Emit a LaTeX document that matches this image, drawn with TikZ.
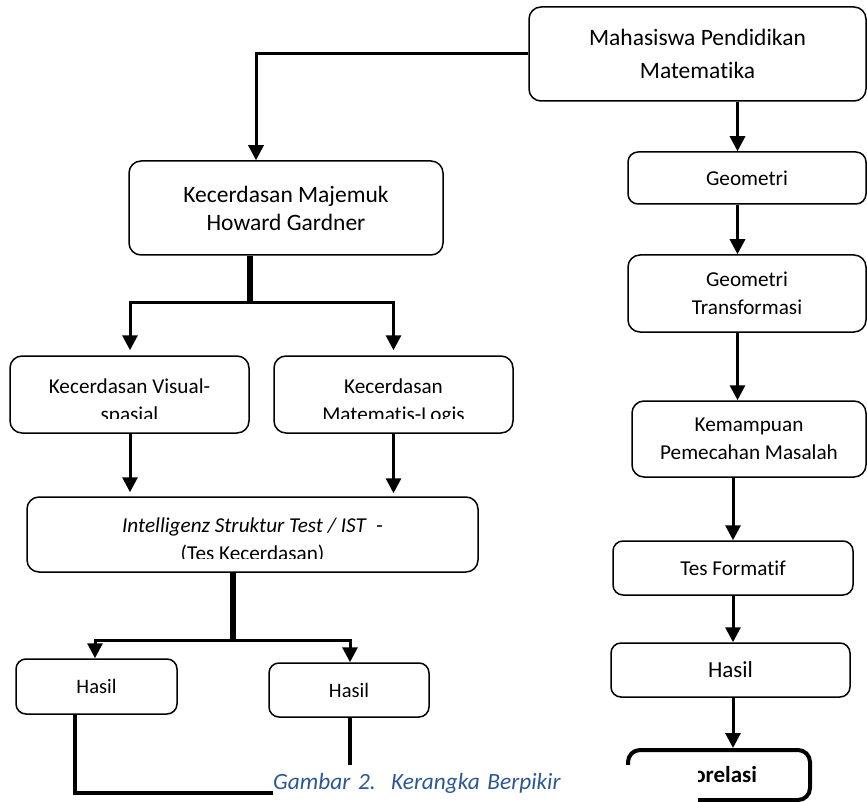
\documentclass[tikz,border=0pt]{standalone}
\usepackage{fontspec}
\setmainfont{Carlito}[Ligatures=NoCommon]
\usetikzlibrary{arrows.meta}
\definecolor{captionblue}{RGB}{43,87,151}
\tikzstyle{box} = [draw, line width=1.5pt, rounded corners=12pt, inner sep=0pt, align=center]
\tikzstyle{arrow} = [line width=3pt, -{Triangle[length=15pt,width=15pt]}]
\tikzstyle{stem} = [line width=5.5pt]
\tikzstyle{link} = [line width=3.2pt]
\tikzstyle{big} = [font={\fontsize{23.5}{31}\selectfont}]
\tikzstyle{mid} = [font={\fontsize{21.2}{28.5}\selectfont}]

\begin{document}
\begin{tikzpicture}[x=1pt, y=-1pt]
    \useasboundingbox (0,0) rectangle (867,802);

    % Points
    \coordinate (ColMaj) at (256,0);
    \coordinate (ColTop) at (737.5,0);
    \coordinate (ColBot) at (733,0);
    \coordinate (SplitTop) at (250,302);
    \coordinate (SplitBot) at (233,640);
    \coordinate (ColVis) at (130,0);
    \coordinate (ColLog) at (393.5,0);
    \coordinate (ColHasA) at (95,0);
    \coordinate (ColHasB) at (350,0);
    \coordinate (LinkA) at (75,0);
    \coordinate (Join) at (628,793);

    % Right column
    \node[box, big, minimum width=337pt, minimum height=94pt] (Mahasiswa) at (697.5,54) {Mahasiswa Pendidikan\\[2pt]Matematika};
    \node[box, mid, minimum width=238pt, minimum height=52pt, rounded corners=10pt] (Geometri) at (747,178) {Geometri};
    \node[box, mid, minimum width=238pt, minimum height=77pt] (GeoTrans) at (747,293.5) {Geometri\\Transformasi};
    \node[box, mid, minimum width=234pt, minimum height=76pt] (Kemampuan) at (749,439) {Kemampuan\\Pemecahan Masalah};
    \node[box, mid, minimum width=240pt, minimum height=54pt, rounded corners=10pt] (TesFormatif) at (733,568) {Tes Formatif};
    \node[box, font={\fontsize{23}{28}\selectfont}, minimum width=239pt, minimum height=54pt, rounded corners=10pt] (HasilTes) at (730.5,670) {Hasil};
    \node[box, line width=4pt, font={\fontsize{23}{28}\selectfont\bfseries}, minimum width=182pt, minimum height=50pt] (Korelasi) at (719,775) {Korelasi};

    % Left column
    \node[box, big, minimum width=314pt, minimum height=94pt] (Majemuk) at (286,208) {Kecerdasan Majemuk\\[-3pt]Howard Gardner};
    \node[box, minimum width=239pt, minimum height=77pt] (Visual) at (129.5,394.5) {};
    \node[box, minimum width=239pt, minimum height=77pt] (Logis) at (393.5,394.5) {};
    \node[box, minimum width=451pt, minimum height=75pt] (IST) at (252.5,534.5) {};
    \begin{scope}
        \clip (10,356) rectangle (513,418);
        \node[mid, align=center] (VisualText) at (129.5,402) {Kecerdasan Visual-\\spasial};
        \node[mid, align=center] (LogisText) at (393.5,402) {Kecerdasan\\Matematis-Logis};
    \end{scope}
    \begin{scope}
        \clip (27,497) rectangle (478,558);
        \node[mid, align=center] (ISTText) at (252.5,540.5) {\textit{Intelligenz Struktur Test / IST}\ \ -\\(Tes Kecerdasan)};
    \end{scope}
    \node[box, font={\fontsize{20.5}{26}\selectfont}, minimum width=161pt, minimum height=55pt, rounded corners=10pt] (HasilVisual) at (96.5,686.5) {Hasil};
    \node[box, font={\fontsize{20.5}{26}\selectfont}, minimum width=160pt, minimum height=54pt, rounded corners=10pt] (HasilLogis) at (349,690) {Hasil};

    % Arrows
    \draw[arrow] (Mahasiswa.west) -| (Majemuk.north -| ColMaj);
    \draw[arrow] (Mahasiswa.south -| ColTop) -- (Geometri.north -| ColTop);
    \draw[arrow] (Geometri.south -| ColTop) -- (GeoTrans.north -| ColTop);
    \draw[arrow] (GeoTrans.south -| ColTop) -- (Kemampuan.north -| ColTop);
    \draw[arrow] (Kemampuan.south -| ColBot) -- (TesFormatif.north -| ColBot);
    \draw[arrow] (TesFormatif.south -| ColBot) -- (HasilTes.north -| ColBot);
    \draw[arrow] (HasilTes.south -| ColBot) -- (Korelasi.north -| ColBot);

    \draw[stem] (Majemuk.south -| SplitTop) -- (SplitTop);
    \draw[arrow, shorten >=5pt] (SplitTop) -| (Visual.north -| ColVis);
    \draw[arrow, shorten >=5pt] (SplitTop) -| (Logis.north -| ColLog);
    \draw[arrow, shorten >=4pt] (Visual.south -| ColVis) -- (IST.north -| ColVis);
    \draw[arrow, shorten >=3pt] (Logis.south -| ColLog) -- (IST.north -| ColLog);

    \draw[stem] (IST.south -| SplitBot) -- (SplitBot);
    \draw[arrow] (SplitBot) -| (HasilVisual.north -| ColHasA);
    \draw[arrow] (SplitBot) -| (HasilLogis.north -| ColHasB);

    % Links to Korelasi
    \draw[link] (HasilVisual.south -| LinkA) |- (Join);
    \draw[link] (HasilLogis.south -| ColHasB) -- (Join -| ColHasB);

    % Caption
    \node[fill=white, inner sep=0pt, anchor=north west, minimum height=37pt, text width=425pt, align=left, text=captionblue, font={\fontsize{23.3}{28}\selectfont\itshape}] (Caption) at (273,765) {Gambar 2.\ \ Kerangka Berpikir};

\end{tikzpicture}
\end{document}
